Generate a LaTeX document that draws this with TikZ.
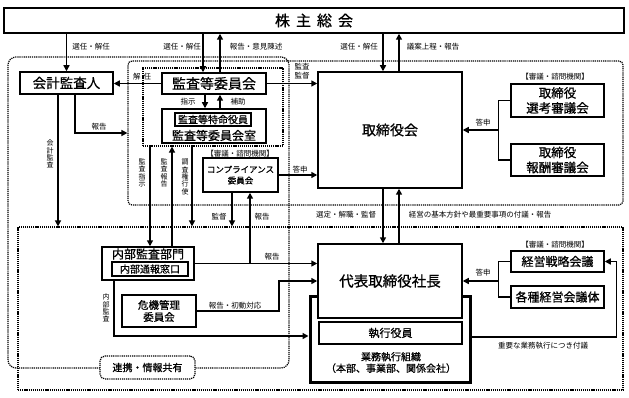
\documentclass[tikz,border=0pt]{standalone}
\usepackage{fontspec}
\setmainfont{Noto Sans CJK JP}
\newfontfamily\midfont[FakeBold=0.8]{Noto Sans CJK JP}
\usetikzlibrary{arrows.meta,calc}
\newcommand\fsz[2]{\fontsize{#1}{#2}\selectfont}
\begin{document}
\begin{tikzpicture}[x=1pt,y=-1pt,
 box/.style={draw, line width=1.5pt, fill=white, inner sep=0pt, align=center},
 thinbox/.style={draw, line width=1.2pt, fill=white, inner sep=0pt, align=center},
 arr/.style={line width=1.5pt, -{Triangle[length=6pt,width=6pt]}},
 ln/.style={line width=1.5pt},
 region/.style={draw, line width=1.2pt, dash pattern=on 1.2pt off 0.9pt, inner sep=0pt},
 lab/.style={font=\fsz{7.5}{8}, inner sep=0pt},
 vlab/.style={font=\fsz{7}{7.4}, inner sep=0pt, align=center},
]
\useasboundingbox (0,0) rectangle (629,398);
% regions
\node[region, rounded corners=8pt, minimum width=281pt, minimum height=311pt] (r1) at (148.5,212.5) {};
\node[region, rounded corners=4pt, minimum width=495pt, minimum height=144pt] (r2) at (375.5,133) {};
\node[region, minimum width=140pt, minimum height=78pt] (r3) at (213,107) {};
\node[region, minimum width=605pt, minimum height=163pt] (r4) at (320.5,308.5) {};
\node[region, rounded corners=5pt, fill=white, minimum width=95pt, minimum height=23pt, font=\midfont\fsz{10}{12}] (renkei) at (147.5,367.5) {連携・情報共有};

% boxes
\node[box, minimum width=620pt, minimum height=25pt, font=\midfont\fsz{15}{16}] (kabu) at (314,20.5) {株\hspace{6pt}主\hspace{6pt}総\hspace{6pt}会};
\node[box, minimum width=93pt, minimum height=22pt, font=\midfont\fsz{13.5}{14}] (kaikei) at (66.5,83) {会計監査人};
\node[box, minimum width=104pt, minimum height=21pt, font=\midfont\fsz{14}{15}] (iin) at (214,83.5) {監査等委員会};
\node[box, minimum width=104pt, minimum height=34pt] (shitsu) at (214,126) {};
\node[thinbox, minimum width=76pt, minimum height=13pt, font=\midfont\fsz{10}{11}] (tokumei) at (213,119.5) {監査等特命役員};
\node[inner sep=0pt, font=\midfont\fsz{12}{13}] (shitsut) at (214,135.5) {監査等委員会室};
\node[box, minimum width=144pt, minimum height=116pt, font=\midfont\fsz{14}{15}] (tori) at (390,130) {取締役会};
\node[box, minimum width=93pt, minimum height=33pt, font=\midfont\fsz{12.5}{15}] (senko) at (557.5,100.5) {取締役\\選考審議会};
\node[box, minimum width=93pt, minimum height=32pt, font=\midfont\fsz{12.5}{15}] (hoshu) at (557.5,160) {取締役\\報酬審議会};
\node[lab] (shingi1) at (555,77) {【審議・諮問機関】};
\node[box, minimum width=75pt, minimum height=34pt, font=\midfont\fsz{8.5}{11}] (comp) at (240.5,175) {コンプライアンス\\委員会};
\node[lab] (shingi2) at (240,154) {【審議・諮問機関】};
\node[box, minimum width=92pt, minimum height=33pt] (naibu) at (148,263.5) {};
\node[inner sep=0pt, font=\midfont\fsz{12}{13}] (naibut) at (148,254) {内部監査部門};
\node[thinbox, minimum width=76pt, minimum height=14pt, font=\midfont\fsz{10}{11}] (tsuho) at (150,269) {内部通報窓口};
\node[box, minimum width=74pt, minimum height=32pt, font=\midfont\fsz{10.5}{12}] (kiki) at (159,311) {危機管理\\委員会};
\node[draw, line width=3pt, inner sep=0pt, minimum width=160pt, minimum height=86pt] (gyomu) at (390,339) {};
\node[box, minimum width=144pt, minimum height=74pt, font=\midfont\fsz{14.5}{15}] (daihyo) at (390,281) {代表取締役社長};
\node[box, minimum width=143pt, minimum height=22pt, font=\midfont\fsz{11}{12}] (shikko) at (390.5,333) {執行役員};
\node[inner sep=0pt, font=\midfont\fsz{10}{11.5}, align=center] (gyomut) at (391,362.5) {業務執行組織\\（本部、事業部、関係会社）};
\node[box, minimum width=93pt, minimum height=21pt, font=\midfont\fsz{12}{13}] (senryaku) at (557.5,261.5) {経営戦略会議};
\node[box, minimum width=93pt, minimum height=22pt, font=\midfont\fsz{12}{13}] (kakushu) at (557.5,297) {各種経営会議体};
\node[lab] (shingi3) at (555,245) {【審議・諮問機関】};

% top connectors
\draw[arr] (kabu.south -| kaikei.north) -- (kaikei.north);
\node[lab] at (91,47) {選任・解任};
\draw[arr] ([xshift=-11pt]iin.north |- kabu.south) -- ([xshift=-11pt]iin.north);
\node[lab] at (182,47) {選任・解任};
\draw[arr] ([xshift=6pt]iin.north) -- ([xshift=6pt]iin.north |- kabu.south);
\node[lab] at (256,47) {報告・意見陳述};
\draw[arr] ([xshift=-7pt]tori.north |- kabu.south) -- ([xshift=-7pt]tori.north);
\node[lab] at (359,47) {選任・解任};
\draw[arr] ([xshift=9pt]tori.north) -- ([xshift=9pt]tori.north |- kabu.south);
\node[lab] at (433,47) {議案上程・報告};

% audit committee
\draw[arr] (iin.east) -- (iin.east -| tori.west);
\node[lab, align=center, font=\fsz{7.5}{9}] at (302,71) {監査\\監督};
\draw[arr] (iin.west) -- (iin.west -| kaikei.east);
\node[lab] at (142,77) {解\hspace{3pt}任};
\draw[arr] ([xshift=-9pt]iin.south) -- ([xshift=-9pt]iin.south |- shitsu.north);
\node[lab] at (188,102) {指示};
\draw[arr] ([xshift=6pt]iin.south |- shitsu.north) -- ([xshift=6pt]iin.south);
\node[lab] at (238,102) {補助};

% accounting auditor
\draw[arr] ([xshift=8.5pt]kaikei.south) |- (r2.west);
\node[lab] at (99,127) {報告};
\draw[arr] ([xshift=-8.5pt]kaikei.south) -- ([xshift=-8.5pt]kaikei.south |- r4.north);
\node[vlab] at (50,154) {会\\計\\監\\査};

% internal audit links
\draw[arr] ([xshift=2pt]naibu.north |- r3.south) -- ([xshift=2pt]naibu.north);
\node[vlab] at (142,173) {監\\査\\指\\示};
\draw[arr] ([xshift=24pt]naibu.north) -- ([xshift=24pt]naibu.north |- r3.south);
\node[vlab] at (164,173) {監\\査\\報\\告};
\draw[arr] ([xshift=44pt]naibu.north |- r3.south) -- ([xshift=44pt]naibu.north |- r4.north);
\node[vlab] at (185,177) {調\\査\\権\\行\\使};

% compliance
\draw[arr] (comp.east) -- (comp.east -| tori.west);
\node[lab] at (300,170) {答申};
\draw[arr] ([xshift=-8.5pt]comp.south) -- ([xshift=-8.5pt]comp.south |- r4.north);
\node[lab] at (219,217) {監督};
\draw[arr] ([xshift=9.5pt]comp.south |- naibu.east) -- ([xshift=9.5pt]comp.south);
\node[lab] at (262,217) {報告};
\draw[arr] (naibu.east) -- (naibu.east -| daihyo.west);
\node[lab] at (272,257) {報告};

% crisis
\draw[arr] (kiki.east) -- ++(82,0) |- (daihyo.west);
\node[lab] at (235,306) {報告・初動対応};
\draw[arr] ([xshift=-34pt]naibu.south) |- ([yshift=3pt]gyomu.west);
\node[vlab] at (106,308) {内\\部\\監\\査};

% board - president
\draw[arr] ([xshift=-7pt]tori.south) -- ([xshift=-7pt]daihyo.north);
\draw[arr] ([xshift=9pt]daihyo.north) -- ([xshift=9pt]tori.south);
\node[lab] at (346,215) {選定・解職・監督};
\node[lab] at (480,215) {経営の基本方針や最重要事項の付議・報告};

% councils
\draw[ln] (senko.west) -- ++(-12,0) coordinate (j1) |- (hoshu.west);
\draw[arr] (j1 |- tori.east) -- (tori.east);
\node[lab] at (483,123) {答申};
\draw[ln] (senryaku.west) -- ++(-12,0) coordinate (j2) |- (kakushu.west);
\draw[arr] (j2 |- daihyo.east) -- (daihyo.east);
\node[lab] at (483,273) {答申};
\draw[arr] ([yshift=2pt]gyomu.east) -- ++(145,0) |- (senryaku.east);
\node[lab] at (543,346) {重要な業務執行につき付議};
\end{tikzpicture}
\end{document}
